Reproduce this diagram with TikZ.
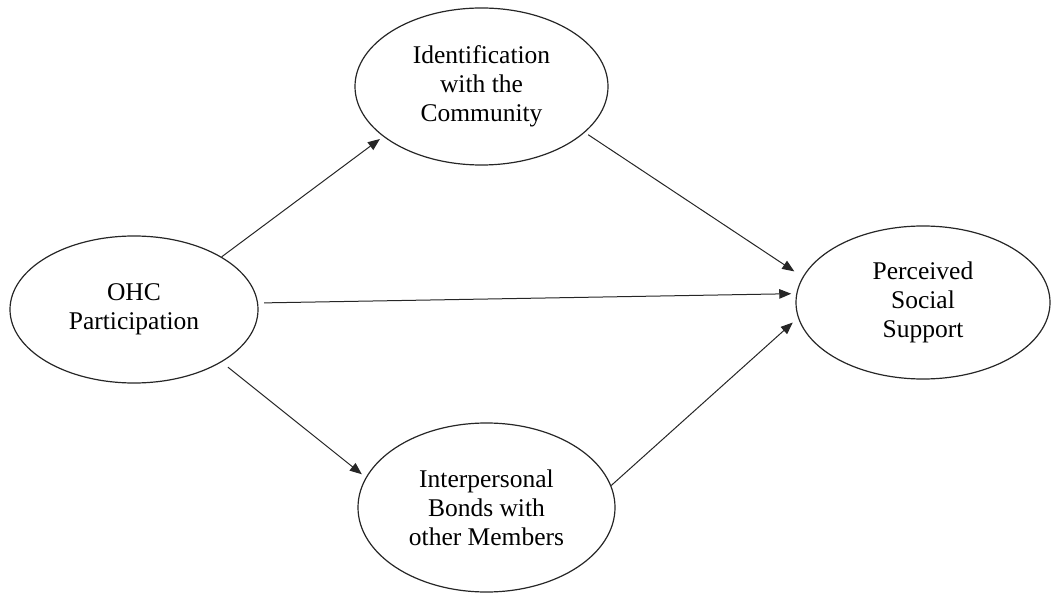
\documentclass[tikz,border=0pt]{standalone}
\usepackage{fontspec}
\setmainfont{Liberation Serif}
\usetikzlibrary{shapes.geometric,arrows.meta}
\begin{document}
\begin{tikzpicture}[x=1pt,y=-1pt,
  construct/.style={ellipse, draw=black!85, line width=1.2pt, inner sep=0pt,
    align=center, font=\fontsize{25.5}{29}\selectfont},
  link/.style={draw=black!85, line width=1pt,
    -{Triangle[length=12pt,width=9.5pt]}}]
\useasboundingbox (0,0) rectangle (1052,593);

% constructs of the model
\node[construct, minimum width=248pt, minimum height=147pt] (ohc) at (134,309.5)
  {OHC\\Participation};
\node[construct, minimum width=253pt, minimum height=157pt] (idc) at (481.5,86.5)
  {Identification\\with the\\Community};
\node[construct, minimum width=257pt, minimum height=169pt] (ibm) at (486.5,507.5)
  {Interpersonal\\Bonds with\\other Members};
\node[construct, minimum width=254pt, minimum height=153pt] (pss) at (923,302.5)
  {Perceived\\Social\\Support};

% hypothesised paths
\draw[link, shorten >=4pt] (ohc.31) -- (idc.207);
\draw[link, shorten <=4pt, shorten >=10pt] (idc.-24) -- (pss.168);
\draw[link, shorten <=6pt, shorten >=5pt] (ohc.3) -- (pss.176);
\draw[link, shorten <=8pt, shorten >=5pt] (ohc.-31) -- (ibm.166);
\draw[link, shorten >=7pt] (ibm.10) -- (pss.187);
\end{tikzpicture}
\end{document}
